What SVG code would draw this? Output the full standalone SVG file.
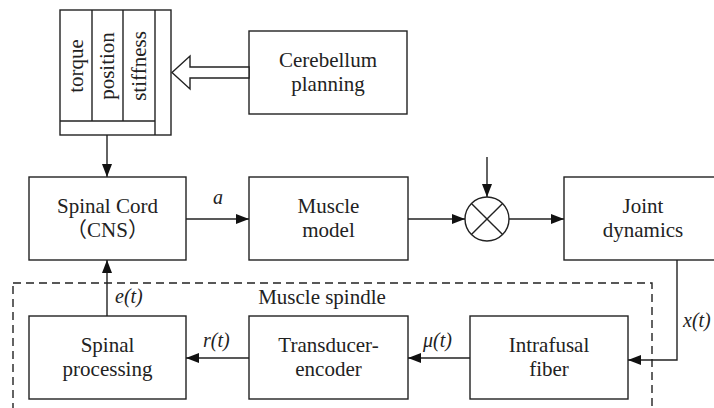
<svg xmlns="http://www.w3.org/2000/svg" width="714" height="408" viewBox="0 0 714 408">
<style>
.box{fill:#fff;stroke:#222;stroke-width:1.4}
.ln{fill:none;stroke:#222;stroke-width:1.4}
.t{font-family:"Liberation Serif","Times New Roman",serif;font-size:21px;fill:#222;text-anchor:middle}
.i{font-family:"Liberation Serif","Times New Roman",serif;font-size:20px;font-style:italic;fill:#222}
.cjk{font-family:"Liberation Serif","Noto Sans CJK SC",serif}
</style>
<defs>
<marker id="ah" markerWidth="13" markerHeight="10" refX="13" refY="5" orient="auto" markerUnits="userSpaceOnUse">
<path d="M0,0 L13,5 L0,10 Z" fill="#111"/>
</marker>
</defs>
<rect width="714" height="408" fill="#fff"/>

<g id="spindle-frame">
<rect x="13" y="283" width="639" height="140" fill="none" stroke="#222" stroke-width="1.4" stroke-dasharray="8,5"/>
<text class="t" x="322" y="304">Muscle spindle</text>
</g>

<g id="memory">
<rect class="box" x="60" y="10" width="111" height="125"/>
<line class="ln" x1="92" y1="10" x2="92" y2="121"/>
<line class="ln" x1="123" y1="10" x2="123" y2="121"/>
<line class="ln" x1="155" y1="10" x2="155" y2="135"/>
<line class="ln" x1="60" y1="121" x2="155" y2="121"/>
<text class="t" transform="translate(83,66) rotate(-90)">torque</text>
<text class="t" transform="translate(114,66) rotate(-90)">position</text>
<text class="t" transform="translate(146,66) rotate(-90)">stiffness</text>
</g>

<g id="cerebellum">
<rect class="box" x="249" y="31" width="158" height="83"/>
<text class="t" x="328" y="67">Cerebellum</text>
<text class="t" x="328" y="91">planning</text>
</g>

<g id="spinal-cord">
<rect class="box" x="29" y="177" width="157" height="83"/>
<text class="t" x="107.5" y="213">Spinal Cord</text>
<text class="t cjk" x="107.5" y="237">（CNS）</text>
</g>

<g id="muscle-model">
<rect class="box" x="249" y="177" width="159" height="83"/>
<text class="t" x="328.5" y="213">Muscle</text>
<text class="t" x="328.5" y="237">model</text>
</g>

<g id="sum">
<circle cx="487" cy="219" r="22" fill="#fff" stroke="#222" stroke-width="1.4"/>
<line class="ln" x1="471.4" y1="203.4" x2="502.6" y2="234.6"/>
<line class="ln" x1="502.6" y1="203.4" x2="471.4" y2="234.6"/>
</g>

<g id="joint-dynamics">
<rect class="box" x="564" y="177" width="160" height="83"/>
<text class="t" x="643" y="213">Joint</text>
<text class="t" x="643" y="237">dynamics</text>
</g>

<g id="spinal-processing">
<rect class="box" x="29" y="316" width="157" height="83"/>
<text class="t" x="107.5" y="352">Spinal</text>
<text class="t" x="107.5" y="376">processing</text>
</g>

<g id="transducer">
<rect class="box" x="249" y="316" width="159" height="83"/>
<text class="t" x="328.5" y="352">Transducer-</text>
<text class="t" x="328.5" y="376">encoder</text>
</g>

<g id="intrafusal">
<rect class="box" x="470" y="316" width="158" height="83"/>
<text class="t" x="549" y="352">Intrafusal</text>
<text class="t" x="549" y="376">fiber</text>
</g>

<g id="connectors">
<polygon points="249,67 190,67 190,56 172,72.5 190,89 190,78 249,78" fill="#fff" stroke="#222" stroke-width="1.4"/>
<line class="ln" x1="107" y1="135" x2="107" y2="177" marker-end="url(#ah)"/>
<line class="ln" x1="186" y1="219" x2="249" y2="219" marker-end="url(#ah)"/>
<line class="ln" x1="408" y1="219" x2="465" y2="219" marker-end="url(#ah)"/>
<line class="ln" x1="487" y1="157" x2="487" y2="197" marker-end="url(#ah)"/>
<line class="ln" x1="509" y1="219" x2="564" y2="219" marker-end="url(#ah)"/>
<polyline class="ln" points="677,260 677,360 628,360" marker-end="url(#ah)"/>
<line class="ln" x1="470" y1="358" x2="408" y2="358" marker-end="url(#ah)"/>
<line class="ln" x1="249" y1="358" x2="186" y2="358" marker-end="url(#ah)"/>
<line class="ln" x1="107" y1="316" x2="107" y2="260" marker-end="url(#ah)"/>
<text class="i" x="213" y="204">a</text>
<text class="i" x="115" y="303">e(t)</text>
<text class="i" x="203" y="347">r(t)</text>
<text class="i" x="423" y="347">μ(t)</text>
<text class="i" x="683" y="327">x(t)</text>
</g>
</svg>
